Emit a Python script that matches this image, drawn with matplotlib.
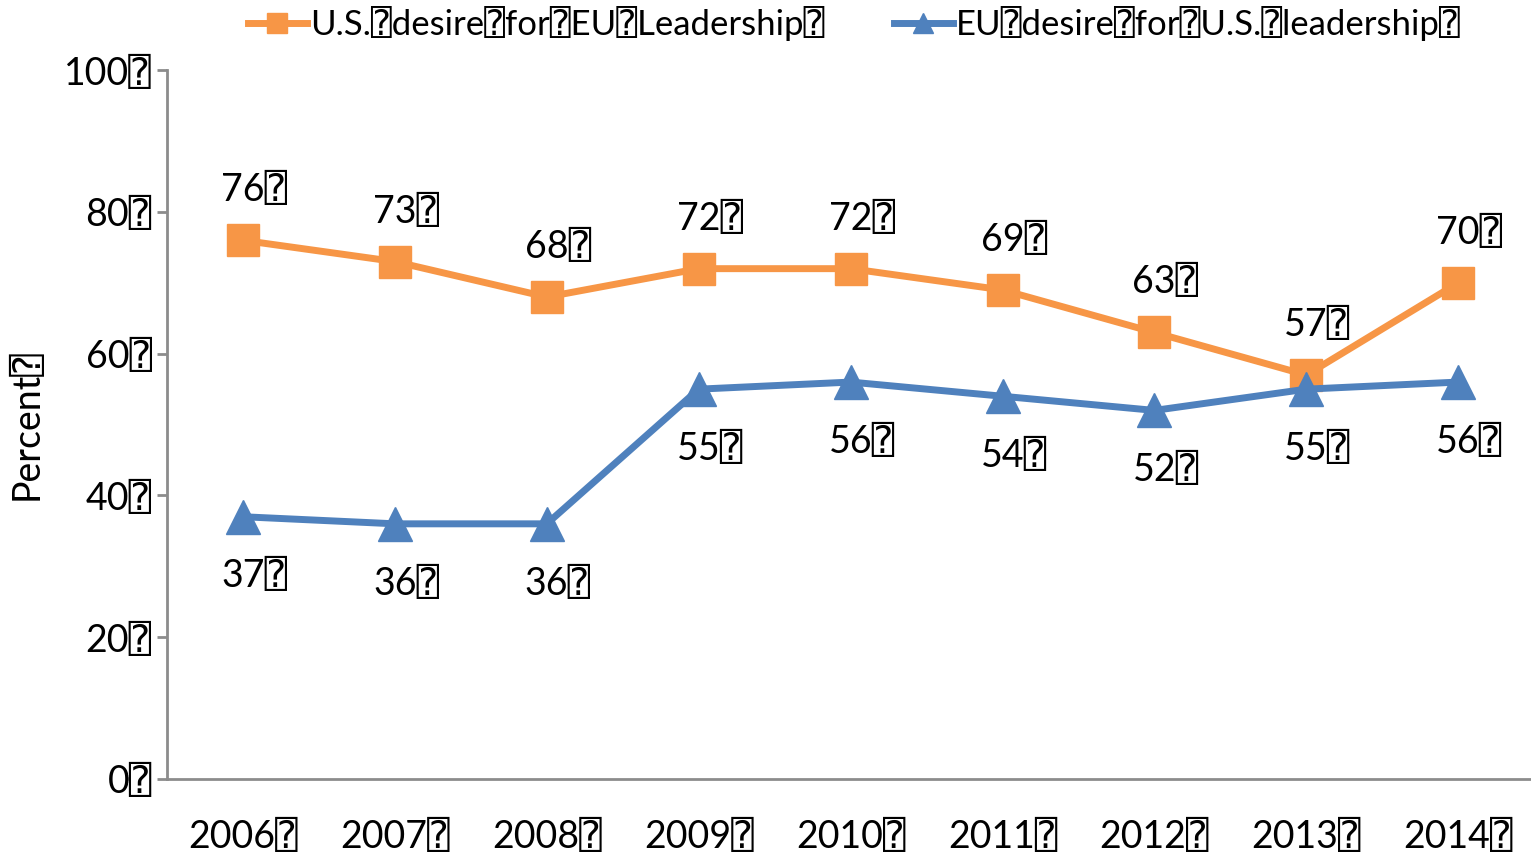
import numpy as np
import matplotlib
matplotlib.use('Agg')
import matplotlib.pyplot as plt

# missing-glyph box as it shows in the source picture
Q = '\u2370'

years = ['2006', '2007', '2008', '2009', '2010', '2011', '2012', '2013', '2014']
us_for_eu = [76, 73, 68, 72, 72, 69, 63, 57, 70]
eu_for_us = [37, 36, 36, 55, 56, 54, 52, 55, 56]
y_ticks = [0, 20, 40, 60, 80, 100]

plt.rcParams['font.family'] = ['Lato', 'DejaVu Sans', 'DejaVu Sans Mono']

orange = '#F79646'
blue = '#4F81BD'
grey = '#8C8C8C'
fs = 27

fig = plt.figure(figsize=(15.31, 8.55), dpi=100)
ax = fig.add_axes([0.1091, 0.0889, 0.893, 0.829])

x = np.arange(len(years))
l1, = ax.plot(x, us_for_eu, color=orange, lw=5, marker='s', ms=23,
              label='U.S.' + Q + 'desire' + Q + 'for' + Q + 'EU' + Q + 'Leadership' + Q)
l2, = ax.plot(x, eu_for_us, color=blue, lw=5, marker='^', ms=25,
              label='EU' + Q + 'desire' + Q + 'for' + Q + 'U.S.' + Q + 'leadership' + Q)

for xi, v in zip(x, us_for_eu):
    ax.annotate(str(v) + Q, (xi, v), xytext=(8, 36), textcoords='offset points',
                ha='center', va='center', fontsize=fs)
for xi, v in zip(x, eu_for_us):
    ax.annotate(str(v) + Q, (xi, v), xytext=(8, -43), textcoords='offset points',
                ha='center', va='center', fontsize=fs)

ax.set_xlim(-0.5, len(years) - 0.5)
ax.set_ylim(0, 100)
ax.set_yticks(y_ticks)
ax.set_yticklabels([str(t) + Q for t in y_ticks], fontsize=fs)
ax.set_xticks(x)
ax.set_xticklabels([y + Q for y in years], fontsize=fs)
ax.tick_params(axis='x', length=0, pad=29)
ax.tick_params(axis='y', length=7, width=2, color=grey, pad=4)
for s in ['top', 'right']:
    ax.spines[s].set_visible(False)
for s in ['left', 'bottom']:
    ax.spines[s].set_color(grey)
    ax.spines[s].set_linewidth(2)
ax.set_ylabel('Percent' + Q, fontsize=fs, labelpad=14)

fig.legend(handles=[l1, l2], loc='upper center', bbox_to_anchor=(0.558, 1.029),
           ncol=2, frameon=False, fontsize=25, handlelength=1.7,
           handletextpad=0.1, columnspacing=2.0, markerscale=0.6)

fig.savefig('out.png', dpi=100)
